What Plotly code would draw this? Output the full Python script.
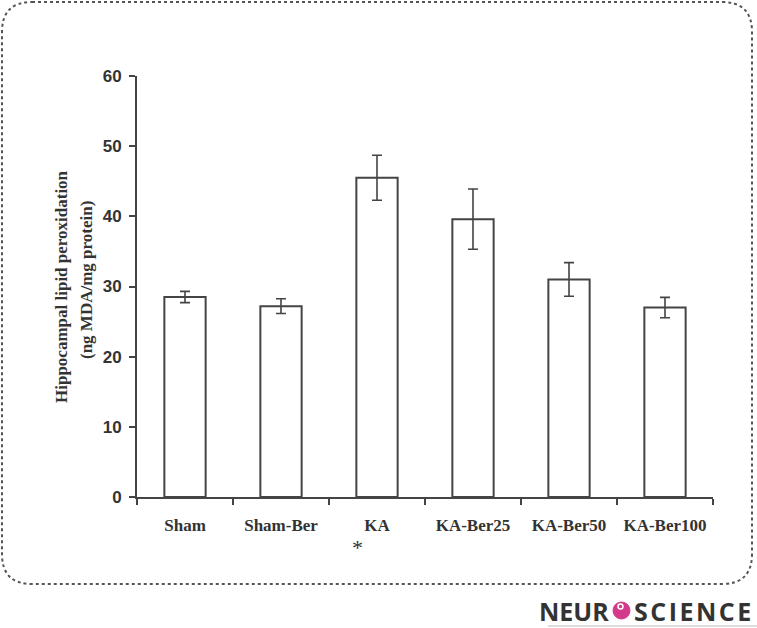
import plotly.graph_objects as go

# data
groups = ['Sham', 'Sham-Ber', 'KA', 'KA-Ber25', 'KA-Ber50', 'KA-Ber100']
mda = [28.5, 27.2, 45.5, 39.6, 31.0, 27.0]
sem = [0.8, 1.05, 3.2, 4.3, 2.4, 1.45]
y_ticks = [0, 10, 20, 30, 40, 50, 60]

W, H = 757, 628
L, R, T, B = 137, 44, 76, 131
pw, ph = W - L - R, H - T - B

def px(x):
    """pixel x -> paper x"""
    return (x - L) / pw

def py(y):
    """pixel y -> paper y"""
    return (H - B - y) / ph

axcol = '#444444'

fig = go.Figure()
fig.add_trace(go.Bar(
    x=groups, y=mda,
    width=0.43,
    marker=dict(color='white', line=dict(color=axcol, width=2)),
    error_y=dict(type='data', array=sem, visible=True, color=axcol, thickness=1.6, width=5),
))

# dotted rounded frame
x0, y0, x1, y1, r = 2, 2, 752, 584, 30
path = (f"M {px(x0+r)},{py(y0)} L {px(x1-r)},{py(y0)} Q {px(x1)},{py(y0)} {px(x1)},{py(y0+r)} "
        f"L {px(x1)},{py(y1-r)} Q {px(x1)},{py(y1)} {px(x1-r)},{py(y1)} "
        f"L {px(x0+r)},{py(y1)} Q {px(x0)},{py(y1)} {px(x0)},{py(y1-r)} "
        f"L {px(x0)},{py(y0+r)} Q {px(x0)},{py(y0)} {px(x0+r)},{py(y0)} Z")
fig.add_shape(type='path', path=path, xref='paper', yref='paper',
              line=dict(color='#555555', width=2, dash='dot'))

# y title as two rotated lines (reference has wide line spacing)
title_font = dict(family='Liberation Serif', size=17, color='#333333', weight='bold')
fig.add_annotation(text='Hippocampal lipid peroxidation', xref='paper', yref='paper',
                   x=px(61), y=py(287), textangle=-90, showarrow=False,
                   xanchor='center', yanchor='middle', font=title_font)
fig.add_annotation(text='(ng MDA/mg protein)', xref='paper', yref='paper',
                   x=px(86), y=py(280), textangle=-90, showarrow=False,
                   xanchor='center', yanchor='middle', font=title_font)

# logo
fig.add_shape(type='circle', xref='paper', yref='paper',
              x0=px(613), x1=px(630), y0=py(619), y1=py(602),
              line=dict(color='#d33a8c', width=1), fillcolor='#d33a8c')
fig.add_shape(type='circle', xref='paper', yref='paper',
              x0=px(618), x1=px(623), y0=py(609), y1=py(604),
              line=dict(color='white', width=1.5), fillcolor='#d33a8c')
fig.add_shape(type='line', xref='paper', yref='paper',
              x0=px(548), x1=px(757), y0=py(626), y1=py(626),
              line=dict(color='#bbbbbb', width=1))
logo_font = dict(family='Open Sans', size=25, color='#333333', weight='bold')
fig.add_annotation(text='NEUR', xref='paper', yref='paper', x=px(611), y=py(611),
                   xanchor='right', yanchor='middle', showarrow=False, font=logo_font)
fig.add_annotation(text='\u200a'.join('SCIENCE'), xref='paper', yref='paper', x=px(632), y=py(611),
                   xanchor='left', yanchor='middle', showarrow=False, font=logo_font)

# significance mark under KA
fig.add_annotation(text='*', xref='paper', yref='paper', x=px(357), y=py(547),
                   xanchor='center', yanchor='middle', showarrow=False,
                   font=dict(family='Liberation Serif', size=22, color='#333333'))

fig.update_layout(
    width=W, height=H,
    margin=dict(l=L, r=R, t=T, b=B),
    paper_bgcolor='white', plot_bgcolor='white',
    showlegend=False,
)
fig.update_xaxes(
    showline=True, linecolor=axcol, linewidth=2,
    ticks='outside', tickson='boundaries', ticklen=6, tickcolor=axcol, tickwidth=2,
    ticklabelstandoff=12,
    tickfont=dict(family='Liberation Serif', size=17, color='#333333', weight='bold'),
    showgrid=False, zeroline=False,
)
fig.update_yaxes(
    range=[0, 60], tickvals=y_ticks,
    showline=True, linecolor=axcol, linewidth=2,
    ticks='outside', ticklen=6, tickcolor=axcol, tickwidth=2,
    ticklabelstandoff=4,
    tickfont=dict(family='Liberation Sans', size=17, color='#333333', weight='bold'),
    showgrid=False, zeroline=False,
)

fig.write_html("out.html", config={'displayModeBar': False},
               post_script="document.body.style.margin='0';")
